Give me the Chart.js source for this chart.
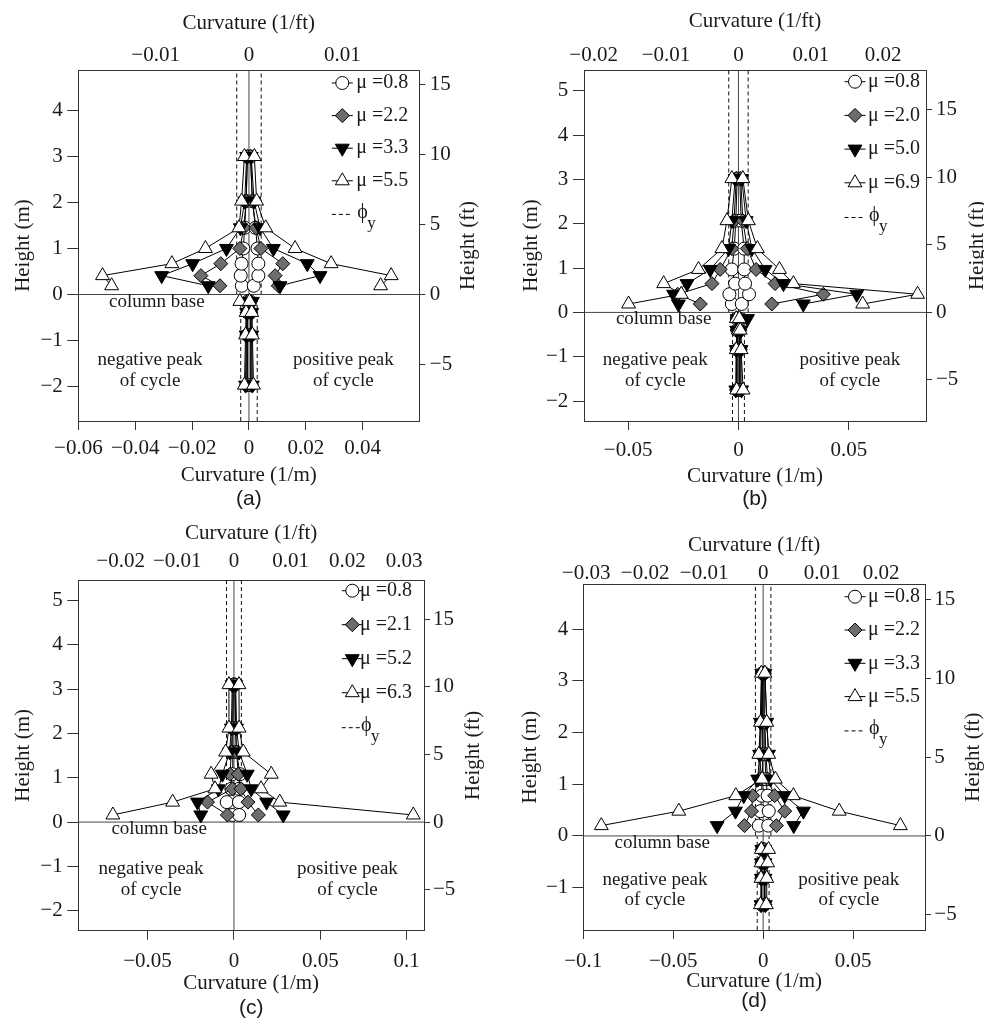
<!DOCTYPE html>
<html>
<head>
<meta charset="utf-8">
<title>Curvature profiles</title>
<script src="https://cdn.jsdelivr.net/npm/chart.js@4.4.1/dist/chart.umd.min.js"></script>
<style>
  body { margin: 0; background: #fff; }
  .page { position: relative; width: 984px; height: 1030px; overflow: hidden; }
  .page canvas { position: absolute; }
</style>
</head>
<body>
<div class="page">
  <canvas id="chartA"></canvas>
  <canvas id="chartB"></canvas>
  <canvas id="chartC"></canvas>
  <canvas id="chartD"></canvas>
</div>
<script>
// ---------- data (curvature in 1/m, height in m) ----------
// panel (a)
const hA = [-1.97, -0.88, -0.39, -0.15, 0.19, 0.41, 0.67, 1.00, 1.45, 2.03, 3.00];
const muA = ['0.8', '2.2', '3.3', '5.5'];
const a08Neg = [-0.0006, -0.0006, -0.0005, -0.0004, -0.0025, -0.0029, -0.0026, -0.0020, -0.0015, -0.0010, -0.0006];
const a08Pos = [0.0006, 0.0006, 0.0005, 0.0004, 0.0017, 0.0033, 0.0033, 0.0030, 0.0023, 0.0012, 0.0006];
const a22Neg = [-0.0009, -0.0008, -0.0006, -0.0005, -0.0102, -0.0169, -0.0099, -0.0032, -0.0018, -0.0010, -0.0005];
const a22Pos = [0.0009, 0.0008, 0.0006, 0.0005, 0.0103, 0.0092, 0.0119, 0.0042, 0.0025, 0.0012, 0.0005];
const a33Neg = [-0.0012, -0.0010, -0.0008, -0.0006, -0.0143, -0.0307, -0.0198, -0.0079, -0.0030, -0.0015, -0.0008];
const a33Pos = [0.0012, 0.0010, 0.0010, 0.0012, 0.0109, 0.0250, 0.0205, 0.0086, 0.0039, 0.0018, 0.0008];
const a55Neg = [-0.0016, -0.0012, -0.0010, -0.0032, -0.0483, -0.0515, -0.0271, -0.0153, -0.0035, -0.0026, -0.0016];
const a55Pos = [0.0016, 0.0012, 0.0010, 0.0002, 0.0463, 0.0500, 0.0289, 0.0162, 0.0059, 0.0027, 0.0019];
const phiA = [0.0043, 0.0029];          // yield curvature above / below the base
const xRangeA = [-0.06001, 0.0599];
const yRangeA = [-2.75, 4.88];

// panel (b)
const hB = [-1.75, -0.84, -0.40, -0.14, 0.19, 0.41, 0.65, 0.97, 1.44, 2.07, 3.02];
const muB = ['0.8', '2.0', '5.0', '6.9'];
const b08Neg = [-0.0006, -0.0006, -0.0005, -0.0007, -0.0030, -0.0041, -0.0015, -0.0030, -0.0019, -0.0012, -0.0006];
const b08Pos = [0.0006, 0.0006, 0.0005, 0.0004, 0.0015, 0.0048, 0.0030, 0.0026, 0.0026, 0.0012, 0.0006];
const b20Neg = [-0.0009, -0.0008, -0.0006, -0.0005, -0.0173, -0.0275, -0.0120, -0.0083, -0.0030, -0.0020, -0.0010];
const b20Pos = [0.0009, 0.0008, 0.0006, 0.0005, 0.0151, 0.0385, 0.0166, 0.0080, 0.0040, 0.0020, 0.0010];
const b50Neg = [-0.0012, -0.0010, -0.0008, -0.0006, -0.0272, -0.0294, -0.0233, -0.0128, -0.0045, -0.0030, -0.0015];
const b50Pos = [0.0014, 0.0012, 0.0012, 0.0041, 0.0294, 0.0536, 0.0204, 0.0121, 0.0061, 0.0035, 0.0015];
const b69Neg = [-0.0008, -0.0010, 0.0000, -0.0010, -0.0498, -0.0259, -0.0339, -0.0181, -0.0075, -0.0052, -0.0030];
const b69Pos = [0.0021, 0.0012, 0.0008, 0.0004, 0.0563, 0.0812, 0.0249, 0.0186, 0.0086, 0.0045, 0.0020];
const phiB = [0.0044, 0.0027];
const xRangeB = [-0.07, 0.085];
const yRangeB = [-2.45, 5.47];

// panel (c)
const hC = [0.16, 0.45, 0.75, 1.08, 1.58, 2.12, 3.10];
const muC = ['0.8', '2.1', '5.2', '6.3'];
const c08Neg = [-0.0010, -0.0042, -0.0015, -0.0010, -0.0008, -0.0006, -0.0004];
const c08Pos = [0.0030, 0.0029, 0.0030, 0.0035, 0.0015, 0.0008, 0.0005];
const c21Neg = [-0.0038, -0.0153, -0.0009, -0.0023, -0.0015, -0.0010, -0.0006];
const c21Pos = [0.0141, 0.0081, 0.0040, 0.0025, 0.0015, 0.0010, 0.0006];
const c52Neg = [-0.0192, -0.0211, -0.0090, -0.0067, -0.0025, -0.0015, -0.0010];
const c52Pos = [0.0285, 0.0189, 0.0100, 0.0077, 0.0030, 0.0015, 0.0010];
const c63Neg = [-0.0701, -0.0355, -0.0110, -0.0132, -0.0048, -0.0029, -0.0029];
const c63Pos = [0.1038, 0.0265, 0.0157, 0.0216, 0.0054, 0.0030, 0.0029];
const phiC = [0.0043, null];
const xRangeC = [-0.0901, 0.11];
const yRangeC = [-2.45, 5.46];

// panel (d)
const hD = [-1.33, -0.82, -0.52, -0.26, 0.20, 0.48, 0.78, 1.10, 1.58, 2.20, 3.15];
const muD = ['0.8', '2.2', '3.3', '5.5'];
const d08Neg = [-0.0008, -0.0008, -0.0006, -0.0004, -0.0024, -0.0015, -0.0008, -0.0006, -0.0005, -0.0004, -0.0003];
const d08Pos = [0.0008, 0.0008, 0.0006, 0.0004, 0.0028, 0.0031, 0.0025, 0.0015, 0.0010, 0.0006, 0.0004];
const d22Neg = [-0.0010, -0.0009, -0.0008, -0.0006, -0.0104, -0.0065, -0.0058, -0.0020, -0.0015, -0.0010, -0.0005];
const d22Pos = [0.0010, 0.0009, 0.0008, 0.0006, 0.0074, 0.0120, 0.0064, 0.0025, 0.0015, 0.0010, 0.0005];
const d33Neg = [-0.0012, -0.0010, -0.0010, -0.0008, -0.0256, -0.0154, -0.0108, -0.0030, -0.0020, -0.0015, -0.0008];
const d33Pos = [0.0012, 0.0010, 0.0010, 0.0008, 0.0170, 0.0224, 0.0120, 0.0041, 0.0030, 0.0020, 0.0010];
const d55Neg = [-0.0015, -0.0012, -0.0012, -0.0010, -0.0900, -0.0469, -0.0152, -0.0006, -0.0024, -0.0015, -0.0010];
const d55Pos = [0.0018, 0.0020, 0.0025, 0.0030, 0.0763, 0.0423, 0.0168, 0.0068, 0.0031, 0.0020, 0.0010];
const phiD = [0.0043, 0.0033];
const xRangeD = [-0.10001, 0.09];
const yRangeD = [-1.82, 4.87];

const FT_PER_M = 3.28084;
const FT_IN_M = 0.3048;

// ---------- styling ----------
const SERIF = '"Liberation Serif", "Times New Roman", serif';
const SANS = '"Liberation Sans", Arial, sans-serif';
const TEXT = '#1a1a1a';
const AXIS = '#333333';

const markers = [
  { pointStyle: 'circle', rotation: 0, radius: 6.5, fill: '#ffffff' },
  { pointStyle: 'rectRot', rotation: 0, radius: 7, fill: '#6d6d6d' },
  { pointStyle: 'triangle', rotation: 180, radius: 8, fill: '#000000' },
  { pointStyle: 'triangle', rotation: 0, radius: 8, fill: '#ffffff' }
];

// page-pixel layout of every panel
const panels = [
  {
    id: 'chartA', tag: '(a)', h: hA, mu: muA, phi: phiA, xr: xRangeA, yr: yRangeA, xStep: 0.02,
    neg: [a08Neg, a22Neg, a33Neg, a55Neg], pos: [a08Pos, a22Pos, a33Pos, a55Pos],
    box: { left: 0, top: 0, w: 492, h: 515 }, area: { l: 78.3, r: 419.3, t: 70, b: 421 },
    leftTitle: 12.5, leftPad: 4.5, rightPad: 4.5, rightTitleX: 468.3,
    topTitle: 12.8, topPad: 4.5, botPad: 7.8, botTitle: 29.5, tagY: 499,
    leg: { marker: 77, text: 63, top: 13, step: 32.6 },
    notes: { base: [-0.0324, -0.16], negPeak: [-0.0348, -1.43, -1.87], posPeak: [0.0332, -1.43, -1.87] }
  },
  {
    id: 'chartB', tag: '(b)', h: hB, mu: muB, phi: phiB, xr: xRangeB, yr: yRangeB, xStep: 0.05,
    neg: [b08Neg, b20Neg, b50Neg, b69Neg], pos: [b08Pos, b20Pos, b50Pos, b69Pos],
    box: { left: 492, top: 0, w: 492, h: 515 }, area: { l: 584, r: 926, t: 70, b: 421 },
    leftTitle: 28.5, leftPad: 4.7, rightPad: 4, rightTitleX: 977.3,
    topTitle: 11.2, topPad: 4.5, botPad: 9.5, botTitle: 28.5, tagY: 499,
    leg: { marker: 71, text: 58, top: 11.7, step: 33.7 },
    notes: { base: [-0.0339, -0.16], negPeak: [-0.0377, -1.08, -1.55], posPeak: [0.0505, -1.08, -1.55] }
  },
  {
    id: 'chartC', tag: '(c)', h: hC, mu: muC, phi: phiC, xr: xRangeC, yr: yRangeC, xStep: 0.05,
    neg: [c08Neg, c21Neg, c52Neg, c63Neg], pos: [c08Pos, c21Pos, c52Pos, c63Pos],
    box: { left: 0, top: 515, w: 492, h: 515 }, area: { l: 78.3, r: 424, t: 580, b: 930.7 },
    leftTitle: 12.5, leftPad: 4.6, rightPad: 3, rightTitleX: 473.3,
    topTitle: 7.8, topPad: 7.8, botPad: 11.5, botTitle: 36.2, tagY: 1008,
    leg: { marker: 71.7, text: 64, top: 10.7, step: 34 },
    notes: { base: [-0.0433, -0.16], negPeak: [-0.048, -1.05, -1.53], posPeak: [0.0657, -1.05, -1.53] }
  },
  {
    id: 'chartD', tag: '(d)', h: hD, mu: muD, phi: phiD, xr: xRangeD, yr: yRangeD, xStep: 0.05,
    neg: [d08Neg, d22Neg, d33Neg, d55Neg], pos: [d08Pos, d22Pos, d33Pos, d55Pos],
    box: { left: 492, top: 515, w: 492, h: 515 }, area: { l: 583.3, r: 925, t: 584.3, b: 930 },
    leftTitle: 27.5, leftPad: 4, rightPad: 3.3, rightTitleX: 973.3,
    topTitle: 19.5, topPad: 0.5, botPad: 12.2, botTitle: 37.8, tagY: 1001.7,
    leg: { marker: 70, text: 57, top: 12.4, step: 33.3 },
    notes: { base: [-0.0561, -0.135], negPeak: [-0.0602, -0.85, -1.24], posPeak: [0.0476, -0.85, -1.24] }
  }
];

// ---------- helpers ----------
function fmt(v) {
  const r = Math.round(v * 1e6) / 1e6;
  if (r === 0) return '0';
  return String(r).replace('-', '\u2212');
}

// one polyline per side, broken at the column base
function profile(h, neg, pos) {
  const pts = [];
  [neg, pos].forEach(side => {
    h.forEach((y, i) => {
      if (i > 0 && h[i - 1] < 0 && y > 0) pts.push({ x: null, y: null });
      pts.push({ x: side[i], y: y });
    });
    pts.push({ x: null, y: null });
  });
  return pts;
}

function refLines(p) {
  const [xmin, xmax] = p.xr, [ymin, ymax] = p.yr;
  const gap = { x: null, y: null };
  const dashed = [
    { x: -p.phi[0], y: 0 }, { x: -p.phi[0], y: ymax }, gap,
    { x: p.phi[0], y: 0 }, { x: p.phi[0], y: ymax }, gap
  ];
  if (p.phi[1] !== null) {
    dashed.push({ x: -p.phi[1], y: ymin }, { x: -p.phi[1], y: 0 }, gap,
                { x: p.phi[1], y: ymin }, { x: p.phi[1], y: 0 });
  }
  const solid = [{ x: 0, y: ymin }, { x: 0, y: ymax }, gap, { x: xmin, y: 0 }, { x: xmax, y: 0 }];
  const base = { showLine: true, pointRadius: 0, borderWidth: 1, order: 10, spanGaps: false };
  return [
    Object.assign({ data: solid, borderColor: '#444' }, base),
    Object.assign({ data: dashed, borderColor: '#111', borderDash: [4, 3] }, base)
  ];
}

function drawMarker(ctx, m, x, y) {
  const r = m.radius;
  ctx.beginPath();
  if (m.pointStyle === 'circle') {
    ctx.arc(x, y, r, 0, Math.PI * 2);
  } else if (m.pointStyle === 'rectRot') {
    ctx.moveTo(x - r, y); ctx.lineTo(x, y - r); ctx.lineTo(x + r, y); ctx.lineTo(x, y + r);
  } else {
    const s = m.rotation ? -1 : 1;
    const dx = r * Math.sin(Math.PI / 3);
    ctx.moveTo(x, y - s * r); ctx.lineTo(x + dx, y + s * r / 2); ctx.lineTo(x - dx, y + s * r / 2);
  }
  ctx.closePath();
  ctx.fillStyle = m.fill; ctx.fill();
  ctx.strokeStyle = '#000'; ctx.lineWidth = 1; ctx.stroke();
}

const decor = {
  id: 'decor',
  afterDraw(chart, args, o) {
    const p = panels[o.index];
    const ctx = chart.ctx, a = chart.chartArea;
    const xs = chart.scales.x, ys = chart.scales.y;
    ctx.save();
    ctx.fillStyle = TEXT;
    // right axis title, read bottom to top like the left one
    ctx.save();
    ctx.font = '21px ' + SERIF;
    ctx.textAlign = 'center'; ctx.textBaseline = 'middle';
    ctx.translate(p.rightTitleX - p.box.left, (a.top + a.bottom) / 2);
    ctx.rotate(-Math.PI / 2);
    ctx.fillText('Height (ft)', 0, 0);
    ctx.restore();

    // notes
    ctx.font = '19px ' + SERIF;
    ctx.textAlign = 'center'; ctx.textBaseline = 'middle';
    const n = p.notes;
    ctx.fillText('column base', xs.getPixelForValue(n.base[0]), ys.getPixelForValue(n.base[1]));
    ctx.fillText('negative peak', xs.getPixelForValue(n.negPeak[0]), ys.getPixelForValue(n.negPeak[1]));
    ctx.fillText('of cycle', xs.getPixelForValue(n.negPeak[0]), ys.getPixelForValue(n.negPeak[2]));
    ctx.fillText('positive peak', xs.getPixelForValue(n.posPeak[0]), ys.getPixelForValue(n.posPeak[1]));
    ctx.fillText('of cycle', xs.getPixelForValue(n.posPeak[0]), ys.getPixelForValue(n.posPeak[2]));

    // legend
    const mx = a.right - p.leg.marker, tx = a.right - p.leg.text;
    ctx.font = '20px ' + SERIF;
    ctx.textAlign = 'left';
    p.mu.forEach((mu, i) => {
      const y = a.top + p.leg.top + i * p.leg.step;
      ctx.strokeStyle = '#000'; ctx.lineWidth = 1; ctx.setLineDash([]);
      ctx.beginPath(); ctx.moveTo(mx - 10.5, y); ctx.lineTo(mx + 10.5, y); ctx.stroke();
      drawMarker(ctx, markers[i], mx, y);
      ctx.fillStyle = TEXT;
      ctx.fillText('\u03bc =' + mu, tx, y);
    });
    const yPhi = a.top + p.leg.top + 4 * p.leg.step + 1;
    ctx.setLineDash([4, 3]);
    ctx.strokeStyle = '#000';
    ctx.beginPath(); ctx.moveTo(mx - 10.5, yPhi); ctx.lineTo(mx + 10.5, yPhi); ctx.stroke();
    ctx.setLineDash([]);
    ctx.fillText('\u03d5', tx + 1, yPhi - 2);
    ctx.font = '17px ' + SERIF;
    ctx.fillText('y', tx + 11, yPhi + 9);

    // panel tag
    ctx.font = '21px ' + SANS;
    ctx.textAlign = 'center';
    ctx.fillText(p.tag, (a.left + a.right) / 2, p.tagY - p.box.top);
    ctx.restore();
  }
};

function scaleFont() { return { family: SERIF, size: 21, lineHeight: 1 }; }

panels.forEach((p, idx) => {
  const cv = document.getElementById(p.id);
  cv.width = p.box.w; cv.height = p.box.h;
  cv.style.left = p.box.left + 'px'; cv.style.top = p.box.top + 'px';
  cv.style.width = p.box.w + 'px'; cv.style.height = p.box.h + 'px';

  const leftW = p.area.l - p.box.left;
  const rightW = p.box.left + p.box.w - p.area.r;
  const topH = p.area.t - p.box.top;
  const botH = p.box.top + p.box.h - p.area.b;

  // open triangles end up on top, circles at the bottom of the stack
  const series = p.mu.map((mu, i) => ({
    mu: mu,
    data: profile(p.h, p.neg[i], p.pos[i]),
    showLine: true,
    spanGaps: false,
    borderColor: '#000',
    borderWidth: 1,
    pointStyle: markers[i].pointStyle,
    rotation: markers[i].rotation,
    pointRadius: markers[i].radius,
    pointBackgroundColor: markers[i].fill,
    pointBorderColor: '#000',
    pointBorderWidth: 1,
    order: 3 - i
  }));

  const tickBase = { color: TEXT, font: scaleFont(), autoSkip: false, maxRotation: 0, minRotation: 0, includeBounds: false, callback: fmt };
  const border = { display: true, color: AXIS, width: 1 };

  new Chart(cv, {
    type: 'scatter',
    data: { datasets: series.concat(refLines(p)) },
    options: {
      responsive: false,
      animation: false,
      events: [],
      layout: { padding: 0 },
      plugins: { legend: { display: false }, tooltip: { enabled: false }, decor: { index: idx } },
      scales: {
        x: {
          type: 'linear', position: 'bottom', min: p.xr[0], max: p.xr[1],
          ticks: Object.assign({}, tickBase, { stepSize: p.xStep, padding: p.botPad }),
          grid: { drawOnChartArea: false, drawTicks: true, tickLength: 9, color: AXIS },
          border: border,
          title: { display: true, text: 'Curvature (1/m)', color: TEXT, font: scaleFont(), padding: { top: 0, bottom: p.botTitle } },
          afterFit: s => { s.height = botH; }
        },
        x2: {
          type: 'linear', position: 'top', min: p.xr[0] * FT_IN_M, max: p.xr[1] * FT_IN_M,
          ticks: Object.assign({}, tickBase, { stepSize: 0.01, padding: p.topPad }),
          grid: { drawOnChartArea: false, drawTicks: false, color: AXIS },
          border: border,
          title: { display: true, text: 'Curvature (1/ft)', color: TEXT, font: scaleFont(), padding: { top: p.topTitle, bottom: 0 } },
          afterFit: s => { s.height = topH; }
        },
        y: {
          type: 'linear', position: 'left', min: p.yr[0], max: p.yr[1],
          ticks: Object.assign({}, tickBase, { stepSize: 1, padding: p.leftPad }),
          grid: { drawOnChartArea: false, drawTicks: true, tickLength: 11, color: AXIS },
          border: border,
          title: { display: true, text: 'Height (m)', color: TEXT, font: scaleFont(), padding: { top: p.leftTitle, bottom: 0 } },
          afterFit: s => { s.width = leftW; }
        },
        y2: {
          type: 'linear', position: 'right', min: p.yr[0] * FT_PER_M, max: p.yr[1] * FT_PER_M,
          ticks: Object.assign({}, tickBase, { stepSize: 5, padding: p.rightPad }),
          grid: { drawOnChartArea: false, drawTicks: true, tickLength: 6, color: AXIS },
          border: border,
          title: { display: false },
          afterFit: s => { s.width = rightW; }
        }
      }
    },
    plugins: [decor]
  });
});
</script>
</body>
</html>
